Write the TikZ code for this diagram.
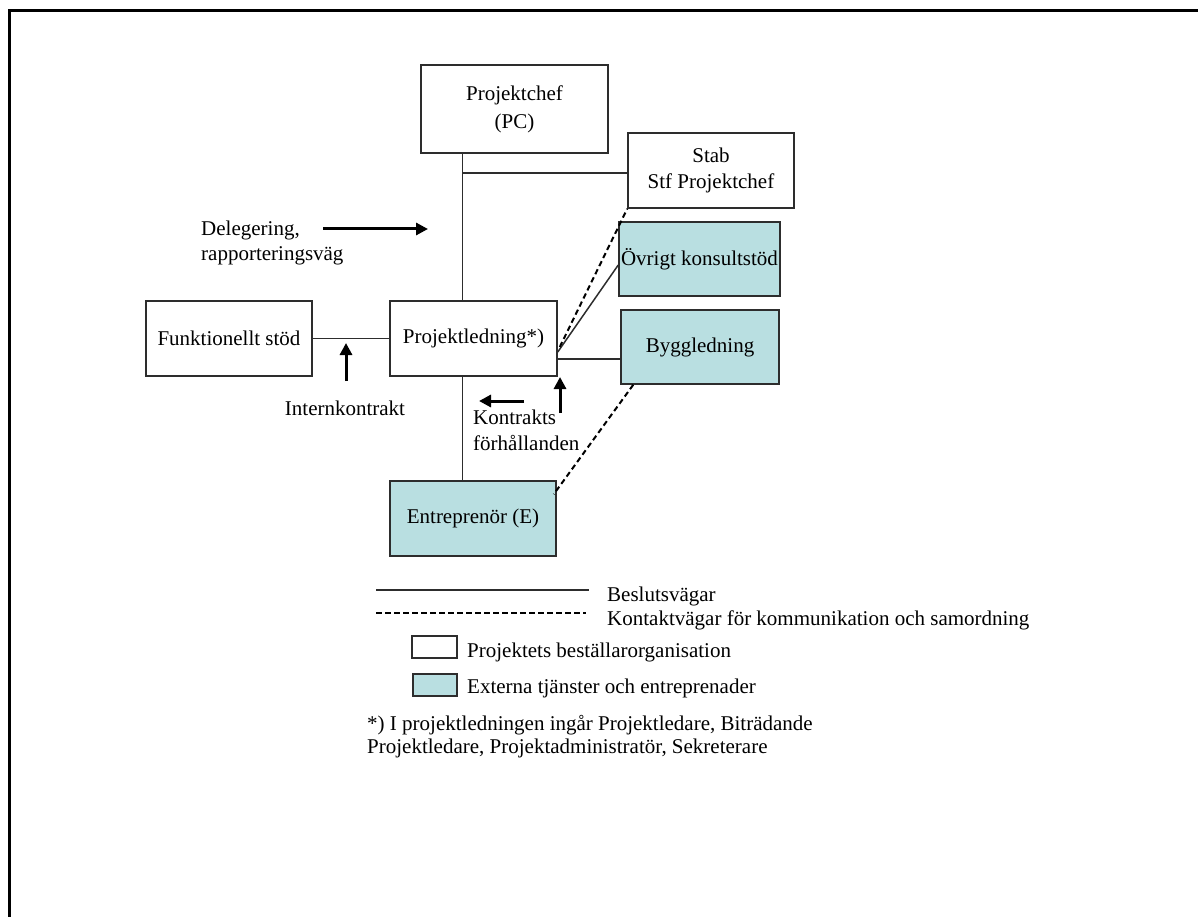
\documentclass[tikz,border=0pt]{standalone}
\usepackage{fontspec}
\setmainfont{Liberation Serif}
\usetikzlibrary{arrows.meta,calc}
\definecolor{teal1}{RGB}{185,223,225}
\definecolor{edge}{RGB}{45,45,45}
\begin{document}
\begin{tikzpicture}[x=1pt,y=-1pt,
  every node/.style={font=\fontsize{21}{25}\selectfont, inner sep=0pt},
  orgbox/.style={draw=edge, line width=1.5pt, fill=white, align=center},
  extbox/.style={draw=edge, line width=1.5pt, fill=teal1, align=center},
  conn/.style={draw=edge, line width=1.5pt},
  contact/.style={draw=black, line width=2pt, dash pattern=on 5.5pt off 3.5pt},
  bigarrow/.style={draw=black, line width=3pt, -{Triangle[length=12pt,width=12pt]}},
  lbl/.style={align=left, anchor=west}
]
\useasboundingbox (0,0) rectangle (1198,917);
% frame (left and top edges)
\draw[line width=3pt] (9,917) -- (9,11) -- (1198,11);

% boxes
\node[orgbox, minimum width=187pt, minimum height=88pt, font=\fontsize{21}{28}\selectfont] (pc) at (514.5,109) {Projektchef\\(PC)};
\node[orgbox, minimum width=166pt, minimum height=75pt, font=\fontsize{21}{26}\selectfont] (stab) at (711,170.5) {Stab\\Stf Projektchef};
\node[extbox, minimum width=161pt, minimum height=74pt] (ovrigt) at (699.5,259) {Övrigt konsultstöd};
\node[extbox, minimum width=158pt, minimum height=74pt] (bygg) at (700,347) {Byggledning};
\node[orgbox, minimum width=167pt, minimum height=75pt] (pl) at (473.5,338.5) {Projektledning*)};
\node[orgbox, minimum width=166pt, minimum height=75pt] (funk) at (229,338.5) {Funktionellt stöd};
\node[extbox, minimum width=166pt, minimum height=75pt] (entr) at (473,518.5) {Entreprenör (E)};

% decision lines
\coordinate (jstab) at ([xshift=-11pt]pl.north |- stab.west);
\draw[conn] ([xshift=-11pt]pl.north) -- ([xshift=-11pt]pl.north |- pc.south);
\draw[conn] ([yshift=-2.5pt]jstab) -- ([yshift=-2.5pt]stab.west);
\draw[conn] (funk.east) -- (pl.west);
\draw[conn] ([xshift=-11pt]pl.south) -- ([xshift=-11pt]pl.south |- entr.north);
\draw[conn] ([yshift=-20.5pt]pl.east) -- ([yshift=-20.5pt]pl.east -| bygg.west);
\draw[conn] ([yshift=-13.5pt]pl.east) -- ([yshift=-6pt]ovrigt.west);

% contact lines
\draw[contact] ([yshift=-8.5pt,xshift=2pt]pl.east) -- (stab.south west);
\draw[contact] ([xshift=13pt]bygg.south west) -- ([yshift=-14pt,xshift=-3pt]entr.north east);

% annotation arrows
\coordinate (da1) at (323,229); \coordinate (da2) at (428,229);
\coordinate (ia1) at (346,381); \coordinate (ia2) at (346,343);
\coordinate (ka1) at (560,413); \coordinate (ka2) at (560,377);
\coordinate (la1) at (524,401); \coordinate (la2) at (479,401);
\draw[bigarrow] (da1) -- (da2);
\draw[bigarrow] (ia1) -- (ia2);
\draw[bigarrow] (ka1) -- (ka2);
\draw[bigarrow] (la1) -- (la2);

% labels
\node[lbl] (deleg) at (201,242.5) {Delegering,\\rapporteringsväg};
\node (intern) at (345,408) {Internkontrakt};
\node[lbl, font=\fontsize{21}{26}\selectfont] (kontr) at (473,430) {Kontrakts\\förhållanden};

% legend
\coordinate (ls1) at (376,590); \coordinate (ls2) at (589,590);
\coordinate (ld1) at (376,613); \coordinate (ld2) at (586,613);
\draw[conn] (ls1) -- (ls2);
\draw[contact] (ld1) -- (ld2);
\node[lbl] (leg1) at (607,596) {Beslutsvägar};
\node[lbl] (leg2) at (607,620) {Kontaktvägar för kommunikation och samordning};
\node[orgbox, minimum width=45pt, minimum height=22pt] (legw) at (434.5,647) {};
\node[extbox, minimum width=44pt, minimum height=22pt] (legt) at (435,685) {};
\node[lbl] (leg3) at (467,652) {Projektets beställarorganisation};
\node[lbl] (leg4) at (467,688) {Externa tjänster och entreprenader};
\node[lbl, font=\fontsize{21}{23}\selectfont] (foot) at (367,736.5) {*) I projektledningen ingår Projektledare, Biträdande\\Projektledare, Projektadministratör, Sekreterare};
\end{tikzpicture}
\end{document}
